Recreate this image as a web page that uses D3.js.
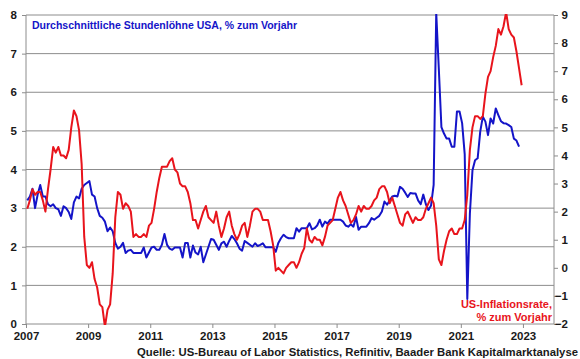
<!DOCTYPE html>
<html><head><meta charset="utf-8">
<script src="https://cdn.jsdelivr.net/npm/d3@7"></script>
<style>
body{margin:0;background:#fff;}
text{font-family:"Liberation Sans",Arial,sans-serif;font-weight:bold;}
</style></head>
<body><svg id="c" width="580" height="359"></svg>
<script>
// ---- data (monthly, starting Jan 2007) ----
const startYear = 2007;
// Average hourly earnings USA, % y/y (left axis)
const wages = [
3.2,3.3,3.5,3.0,3.35,3.6,3.3,3.3,3.1,3.05,3.1,3.0,
2.97,2.8,3.05,3.0,2.9,2.72,3.15,3.3,3.25,3.5,3.6,3.65,
3.7,3.35,3.3,3.0,2.8,2.75,2.65,2.4,2.5,2.4,2.1,1.95,
2.0,2.1,1.84,1.9,1.92,1.84,1.84,1.84,1.84,1.98,1.72,1.85,
1.98,2.0,1.92,1.92,2.05,2.33,2.05,1.95,1.92,1.98,1.98,1.98,
1.72,2.1,2.1,1.72,2.03,1.85,1.8,2.0,1.6,1.8,2.0,2.2,
2.18,2.05,1.92,2.09,2.13,2.0,2.15,2.28,2.2,2.09,1.95,1.9,
2.15,2.1,2.05,2.0,2.09,2.02,2.05,2.09,1.99,1.99,1.99,1.99,
1.87,2.1,2.22,2.31,2.25,2.22,2.22,2.22,2.48,2.39,2.48,2.48,
2.48,2.61,2.45,2.48,2.55,2.7,2.52,2.65,2.6,2.7,2.7,2.7,
2.7,2.7,2.65,2.55,2.52,2.58,2.52,2.77,2.44,2.52,2.52,2.52,
2.61,2.74,2.7,2.75,2.8,2.91,3.17,3.09,3.2,3.3,3.32,3.3,
3.55,3.5,3.4,3.29,3.39,3.38,3.38,3.2,3.1,3.35,3.1,2.95,
3.07,3.6,8.05,6.6,5.1,4.93,4.8,4.8,4.59,4.59,5.5,5.5,
5.2,4.4,0.65,2.86,3.98,4.24,4.29,4.98,5.37,5.24,4.89,5.32,
5.19,5.58,5.41,5.25,5.2,5.19,5.15,5.1,4.8,4.75,4.59
];
// US inflation rate, % y/y (right axis)
const cpi = [
2.1,2.4,2.8,2.6,2.7,2.7,2.4,2.0,2.8,3.5,4.3,4.1,
4.3,4.0,4.0,3.9,4.2,5.0,5.6,5.4,4.9,3.7,1.1,0.1,
0.0,0.2,-0.4,-0.7,-1.3,-1.4,-2.1,-1.5,-1.3,-0.2,1.8,2.7,
2.6,2.1,2.3,2.2,2.0,1.1,1.2,1.1,1.1,1.2,1.1,1.5,
1.6,2.1,2.7,3.2,3.6,3.6,3.6,3.8,3.9,3.5,3.4,3.0,
2.9,2.9,2.7,2.3,1.7,1.7,1.4,1.7,2.0,2.2,1.8,1.7,
1.6,2.0,1.5,1.1,1.4,1.8,2.0,1.5,1.2,1.0,1.2,1.5,
1.6,1.1,1.5,2.0,2.1,2.1,2.0,1.7,1.7,1.7,1.3,0.8,
-0.1,0.0,-0.1,-0.2,0.0,0.1,0.2,0.2,0.0,0.2,0.5,0.7,
1.4,1.0,0.9,1.1,1.0,1.0,0.8,1.1,1.5,1.6,1.7,2.1,
2.5,2.7,2.4,2.2,1.9,1.6,1.7,1.9,2.2,2.0,2.2,2.1,
2.1,2.2,2.4,2.5,2.8,2.9,2.9,2.7,2.3,2.5,2.2,1.9,
1.6,1.5,1.9,2.0,1.8,1.6,1.8,1.7,1.7,1.8,2.1,2.3,
2.5,2.3,1.5,0.3,0.1,0.6,1.0,1.3,1.4,1.2,1.2,1.4,
1.4,1.7,2.6,4.2,5.0,5.4,5.4,5.3,5.4,6.2,6.8,7.0,
7.5,7.9,8.5,8.3,8.6,9.1,8.5,8.3,8.2,7.7,7.1,6.5
];
const xTicks = [2007,2009,2011,2013,2015,2017,2019,2021,2023];
const leftTicks = [0,1,2,3,4,5,6,7,8];
const rightTicks = [-2,-1,0,1,2,3,4,5,6,7,8,9];
const titleText = "Durchschnittliche Stundenlöhne USA, % zum Vorjahr";
const redLabel = ["US-Inflationsrate,", "% zum Vorjahr"];
const sourceText = "Quelle: US-Bureau of Labor Statistics, Refinitiv, Baader Bank Kapitalmarktanalyse";

// ---- layout ----
const L = 26, R = 554, T = 15, B = 324;
const blue = "#1414c8", red = "#e8141c", grid = "#8c8c8c", txt = "#1a1a1a";
const svg = d3.select("#c");

svg.append("defs").append("clipPath").attr("id", "plot")
  .append("rect").attr("x", L).attr("y", T - 1).attr("width", R - L).attr("height", B - T + 2);

const x = d3.scaleLinear().domain([2007, 2024]).range([L, R]);
const yL = d3.scaleLinear().domain([0, 8]).range([B, T]);
const yR = d3.scaleLinear().domain([-2, 9]).range([B, T]);
const t = i => startYear + (i + 0.5) / 12;

// gridlines
svg.append("g").selectAll("line").data(leftTicks.filter(d => d > 0)).join("line")
  .attr("x1", L).attr("x2", R).attr("y1", d => yL(d)).attr("y2", d => yL(d))
  .attr("stroke", grid).attr("stroke-width", 1);

// left axis
const gl = svg.append("g").attr("transform", `translate(${L},0)`)
  .call(d3.axisLeft(yL).tickValues(leftTicks).tickSize(4).tickPadding(5).tickFormat(d3.format("d")));
// right axis
const gr = svg.append("g").attr("transform", `translate(${R},0)`)
  .call(d3.axisRight(yR).tickValues(rightTicks).tickSize(4).tickPadding(3).tickFormat(d3.format("d")));
// bottom axis
const gb = svg.append("g").attr("transform", `translate(0,${B})`)
  .call(d3.axisBottom(x).tickValues(xTicks).tickSize(4).tickPadding(4).tickFormat(d3.format("d")));

[gl, gr, gb].forEach(g => {
  g.select(".domain").attr("stroke", grid).attr("stroke-width", 1);
  g.selectAll(".tick line").attr("stroke", grid);
  g.selectAll(".tick text").attr("fill", txt).style("font-size", "11.5px")
    .style("font-family", '"Liberation Sans",Arial,sans-serif').style("font-weight", "bold");
});
gl.select(".domain").attr("d", `M0,${B}V${T}`);
gr.select(".domain").attr("d", `M0,${B}V${T}`);
gb.select(".domain").attr("d", `M${L},0H${R}`);
gr.selectAll(".tick text").attr("text-anchor", "end").attr("x", 14);
gb.selectAll(".tick text").attr("dx", 0);

// lines
const lineL = d3.line().x((d, i) => x(t(i))).y(d => yL(d));
const lineR = d3.line().x((d, i) => x(t(i))).y(d => yR(d));
const lines = svg.append("g").attr("clip-path", "url(#plot)");
lines.append("path").datum(wages).attr("d", lineL).attr("fill", "none")
  .attr("stroke", blue).attr("stroke-width", 2).attr("stroke-linejoin", "round");
lines.append("path").datum(cpi).attr("d", lineR).attr("fill", "none")
  .attr("stroke", red).attr("stroke-width", 2).attr("stroke-linejoin", "round");

// texts
svg.append("text").attr("x", 32).attr("y", 28.5).attr("fill", blue)
  .style("font-size", "11px").attr("textLength", 265).attr("lengthAdjust", "spacingAndGlyphs")
  .text(titleText);
svg.append("text").attr("x", 552).attr("y", 308).attr("text-anchor", "end").attr("fill", red)
  .style("font-size", "11px").text(redLabel[0]);
svg.append("text").attr("x", 552).attr("y", 320.5).attr("text-anchor", "end").attr("fill", red)
  .style("font-size", "11px").text(redLabel[1]);
svg.append("text").attr("x", 578).attr("y", 356).attr("text-anchor", "end").attr("fill", txt)
  .style("font-size", "11px").attr("textLength", 441).attr("lengthAdjust", "spacingAndGlyphs")
  .text(sourceText);
</script></body></html>
